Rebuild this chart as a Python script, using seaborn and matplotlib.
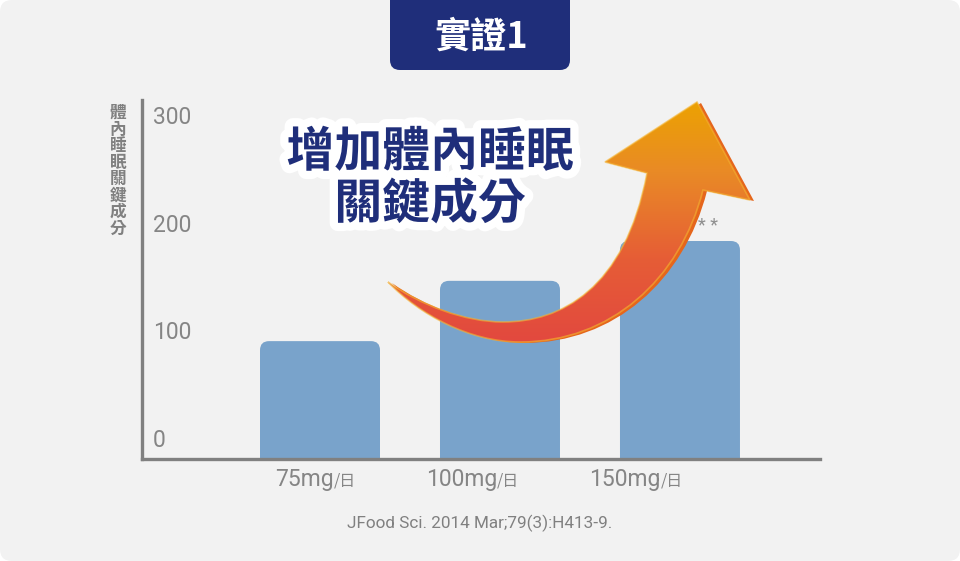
import matplotlib
matplotlib.use("Agg")  # non-interactive backend
import matplotlib.pyplot as plt
import matplotlib.patheffects as pe
import numpy as np
import seaborn as sns
from matplotlib.colors import LinearSegmentedColormap
from matplotlib.patches import FancyBboxPatch, PathPatch
from matplotlib.path import Path

# ------------------------------------------------------------------------
#  Data
# ------------------------------------------------------------------------
DOSES = ["75mg", "100mg", "150mg"]
LEVELS = [90, 146, 183]
Y_TICKS = [0, 100, 200, 300]
UNIT = "/日"
Y_LABEL = "體內睡眠關鍵成分"
TITLE = "實證1"
HEADLINE = ["增加體內睡眠", "關鍵成分"]
SIG_MARK = "* *"
SIG_INDEX = 2
SOURCE = "JFood Sci. 2014 Mar;79(3):H413-9."

NAVY = "#1f2e7a"
BAR_COLOR = "#79a3cb"
GREY = "#808080"
TICK_GREY = "#858585"
BG = "#f2f2f2"
W, H = 960, 561
CJK = ["Noto Sans CJK TC", "DejaVu Sans"]

sns.set_style("white")
plt.rcParams["font.family"] = ["Roboto", "Noto Sans CJK TC", "DejaVu Sans"]

fig = plt.figure(figsize=(W / 100, H / 100), dpi=100, facecolor="white")

# background layer, pixel coordinates
bg = fig.add_axes([0, 0, 1, 1], zorder=0)
bg.set_xlim(0, W)
bg.set_ylim(H, 0)
bg.axis("off")
bg.add_patch(FancyBboxPatch((0, 0), W, H, boxstyle="round,pad=0,rounding_size=12",
                            fc=BG, ec="none"))

# ------------------------------------------------------------------------
#  Bar chart
# ------------------------------------------------------------------------
ax_left, ax_right, ax_top, ax_bottom = 142, 820, 100, 459
ax = fig.add_axes([ax_left / W, (H - ax_bottom) / H,
                   (ax_right - ax_left) / W, (ax_bottom - ax_top) / H], zorder=1)
ax.patch.set_alpha(0)
sns.barplot(x=DOSES, y=LEVELS, color=BAR_COLOR, saturation=1, width=2 / 3, ax=ax)
ax.set_xlim(-0.989, 2.778)
ax.set_ylim(-19.5, 314)

# swap the square bars for ones with rounded tops
px_x = (ax_right - ax_left) / np.ptp(ax.get_xlim())
px_y = (ax_bottom - ax_top) / np.ptp(ax.get_ylim())
radius = 9
for p in list(ax.patches):
    base = ax.get_ylim()[0] - 30
    top = p.get_y() + p.get_height()
    ax.add_patch(FancyBboxPatch((p.get_x(), base), p.get_width(), top - base,
                                boxstyle=f"round,pad=0,rounding_size={radius / px_x}",
                                mutation_aspect=px_x / px_y,
                                fc=BAR_COLOR, ec="none", zorder=2))
    p.remove()

sns.despine(ax=ax)
for side in ["left", "bottom"]:
    ax.spines[side].set_color(GREY)
    ax.spines[side].set_linewidth(2.4)
ax.set_xlabel("")
ax.set_ylabel("")
ax.set_xticks([])
ax.set_yticks(Y_TICKS)
ax.tick_params(axis="y", length=0, pad=-8, labelsize=16.5, labelcolor=TICK_GREY)
for lab in ax.get_yticklabels():
    lab.set_horizontalalignment("left")

# dose labels (they sit a bit left of the bars in the original)
LABEL_STEP, LABEL_SHIFT = 0.908, 0.075
for i, dose in enumerate(DOSES):
    t = ax.annotate(dose, xy=(LABEL_SHIFT + i * LABEL_STEP, 0),
                    xycoords=("data", "axes fraction"),
                    xytext=(0, -27 * 0.72), textcoords="offset points",
                    ha="right", va="baseline", fontsize=16.5, color=TICK_GREY)
    ax.annotate(UNIT, xy=(1, 0), xycoords=t, xytext=(0, 1), textcoords="offset points",
                ha="left", va="bottom", fontsize=11.5, color=TICK_GREY, family=CJK)

ax.text(SIG_INDEX + 0.155, LEVELS[SIG_INDEX] + 14, SIG_MARK, ha="center", va="center",
        fontsize=13, color="#8f8f8f")

# vertical axis title, one character per row
for i, ch in enumerate(Y_LABEL):
    bg.text(118, 113 + i * 16.5, ch, ha="center", va="center", fontsize=12,
            fontweight="bold", color=GREY, family=CJK)

bg.text(480, 528, SOURCE, ha="center", va="baseline", fontsize=12.3, color=GREY)

# ------------------------------------------------------------------------
#  Overlay: title tab, arrow, headline
# ------------------------------------------------------------------------
top = fig.add_axes([0, 0, 1, 1], zorder=3)
top.patch.set_alpha(0)
top.axis("off")

top.add_patch(FancyBboxPatch((390, -20), 180, 90, boxstyle="round,pad=0,rounding_size=10",
                             fc=NAVY, ec="none"))
top.text(481, 37, TITLE, ha="center", va="center", fontsize=26, fontweight="bold",
         color="white", family=CJK)

M, C, L = Path.MOVETO, Path.CURVE4, Path.LINETO
verts = np.array([
    (388, 282),
    (420, 305), (465, 322), (503, 322),
    (560, 322), (625, 290), (647, 173),
    (605, 162), (697, 102), (750, 200), (703, 190),
    (680, 280), (610, 342), (520, 342),
    (470, 342), (420, 315), (388, 282),
    (388, 282),
], dtype=float)
codes = [M, C, C, C, C, C, C, L, L, L, L, C, C, C, C, C, C, Path.CLOSEPOLY]

top.add_patch(PathPatch(Path(verts + [4, 1], codes), fc="#e5661c", ec="none", zorder=1))
arrow = PathPatch(Path(verts, codes), fc="none", ec="none", zorder=1)
top.add_patch(arrow)
cmap = LinearSegmentedColormap.from_list(
    "arrow", [(0, "#eca300"), (0.3, "#e98a26"), (0.65, "#e65d36"), (1, "#e2483f")])
grad = top.imshow(np.linspace(0, 1, 256)[:, None], cmap=cmap, aspect="auto",
                  extent=(380, 760, 345, 98), origin="upper", interpolation="bilinear",
                  zorder=2)
grad.set_clip_path(arrow)
top.add_patch(PathPatch(Path(verts, codes), fc="none", ec="#f5b533", lw=1.2, alpha=0.6,
                        zorder=3))

for (y, line) in zip([152, 204], HEADLINE):
    top.text(430, y, line, ha="center", va="center", fontsize=34.5, fontweight="bold",
             color=NAVY, family=CJK, zorder=4,
             path_effects=[pe.withStroke(linewidth=12, foreground="white")])

top.set_xlim(0, W)
top.set_ylim(H, 0)

fig.savefig("out.png", dpi=100, facecolor="white")
plt.close(fig)
